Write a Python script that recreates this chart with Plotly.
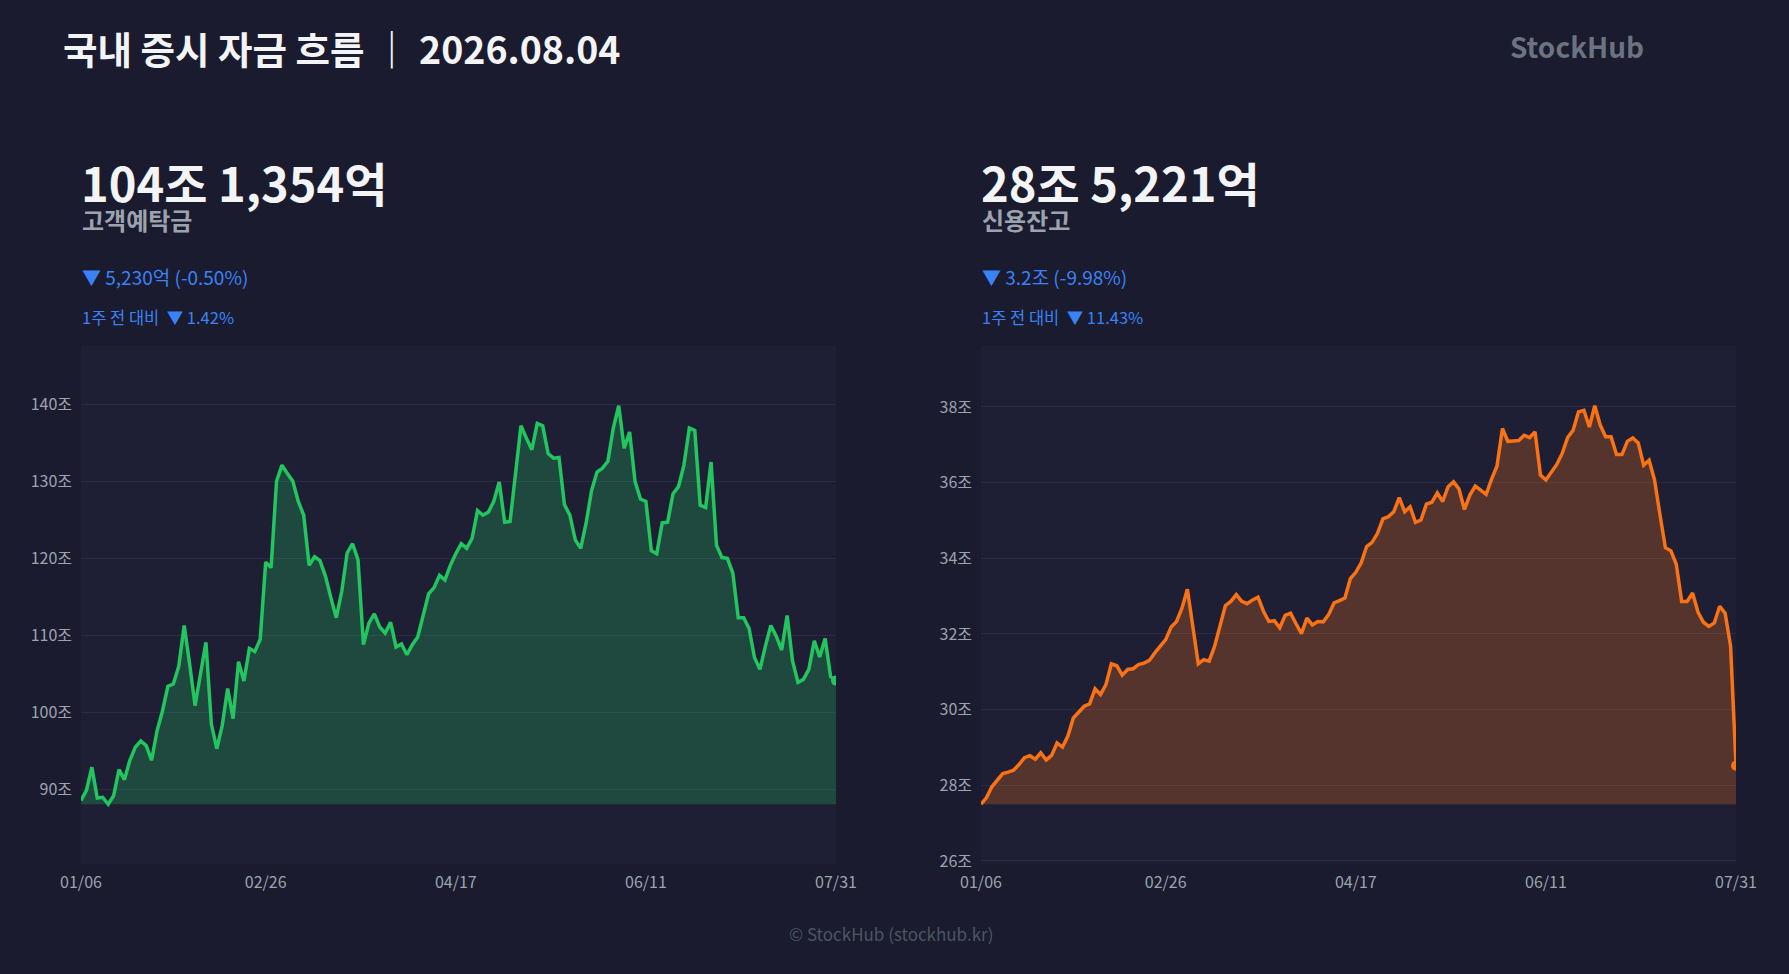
import pandas as pd
import plotly.graph_objects as go

# KRX trading days 2026-01-06 ~ 2026-07-31
KRX_HOLIDAYS = ['2026-02-16', '2026-02-17', '2026-02-18', '2026-03-02', '2026-05-01',
                '2026-05-05', '2026-05-25', '2026-06-03', '2026-07-17']
trade_days = [d.strftime('%m/%d') for d in
              pd.bdate_range('2026-01-06', '2026-07-31', freq='C', holidays=KRX_HOLIDAYS)]
tick_labels = ['01/06', '02/26', '04/17', '06/11', '07/31']

# 고객예탁금 (조원)
deposit = [88.6, 89.9, 92.9, 88.9, 89.0, 88.1, 89.2, 92.6, 91.3, 93.8,
           95.5, 96.3, 95.7, 93.8, 97.6, 100.2, 103.4, 103.7, 106.0, 111.3,
           106.3, 100.9, 105.0, 109.1, 98.5, 95.3, 98.3, 103.1, 99.2, 106.6,
           104.1, 108.3, 107.9, 109.5, 119.5, 118.8, 130.0, 132.1, 131.0, 130.0,
           127.4, 125.6, 119.1, 120.2, 119.7, 117.7, 114.9, 112.3, 115.7, 120.7,
           121.9, 119.8, 108.8, 111.6, 112.8, 111.1, 110.3, 111.7, 108.5, 108.9,
           107.5, 108.8, 109.8, 112.7, 115.4, 116.2, 117.8, 117.2, 119.1, 120.6,
           121.9, 121.3, 122.6, 126.2, 125.6, 126.0, 127.4, 129.9, 124.7, 124.8,
           131.3, 137.2, 135.6, 134.1, 137.5, 137.2, 133.6, 133.0, 133.1, 127.0,
           125.6, 122.4, 121.3, 124.6, 128.8, 131.2, 131.7, 132.6, 136.9, 139.8,
           134.3, 136.4, 130.0, 127.7, 127.4, 121.0, 120.6, 124.6, 124.7, 128.4,
           129.3, 132.1, 136.9, 136.6, 126.9, 126.6, 132.5, 121.7, 120.1, 120.0,
           118.1, 112.3, 112.3, 110.9, 107.1, 105.6, 108.6, 111.3, 109.9, 108.1,
           112.6, 106.7, 103.9, 104.3, 105.6, 109.3, 107.2, 109.6, 104.66, 104.14]

# 신용잔고 (조원)
credit = [27.50, 27.67, 27.96, 28.14, 28.31, 28.35, 28.40, 28.55, 28.73, 28.78,
          28.69, 28.86, 28.67, 28.79, 29.12, 29.01, 29.30, 29.78, 29.93, 30.09,
          30.15, 30.55, 30.40, 30.66, 31.21, 31.16, 30.91, 31.06, 31.08, 31.19,
          31.23, 31.30, 31.50, 31.66, 31.85, 32.18, 32.33, 32.68, 33.18, 32.20,
          31.21, 31.32, 31.28, 31.67, 32.20, 32.75, 32.86, 33.04, 32.86, 32.80,
          32.90, 32.97, 32.60, 32.33, 32.35, 32.16, 32.49, 32.55, 32.27, 32.01,
          32.42, 32.24, 32.33, 32.32, 32.51, 32.82, 32.88, 32.95, 33.46, 33.63,
          33.88, 34.31, 34.42, 34.66, 35.04, 35.10, 35.23, 35.60, 35.23, 35.36,
          34.95, 35.01, 35.43, 35.48, 35.73, 35.50, 35.89, 36.02, 35.83, 35.29,
          35.67, 35.91, 35.80, 35.69, 36.09, 36.44, 37.43, 37.09, 37.10, 37.11,
          37.25, 37.19, 37.34, 36.20, 36.07, 36.29, 36.48, 36.77, 37.19, 37.38,
          37.87, 37.91, 37.47, 38.03, 37.52, 37.21, 37.21, 36.74, 36.74, 37.09,
          37.18, 37.05, 36.46, 36.59, 36.07, 35.15, 34.28, 34.20, 33.84, 32.86,
          32.86, 33.08, 32.58, 32.31, 32.20, 32.29, 32.73, 32.55, 31.68, 28.52]

assert len(trade_days) == len(deposit) == len(credit)

W, H = 1789, 974
BG = '#1a1b2e'
PLOT_BG = '#1e1f34'
GRID = '#2a2c44'
FONT = 'Noto Sans CJK KR'
BLUE = '#3b82f6'


def px_x(x):
    return x / W


def px_y(y):
    return 1 - y / H


def add_area_panel(fig: go.Figure, idx: int, y: list, color: str, fill: str, dtick: float):
    xa = 'x' if idx == 1 else 'x%d' % idx
    ya = 'y' if idx == 1 else 'y%d' % idx
    base = min(y)
    fig.add_scatter(x=trade_days, y=[base] * len(y), mode='lines', line=dict(width=0),
                    hoverinfo='skip', showlegend=False, xaxis=xa, yaxis=ya)
    fig.add_scatter(x=trade_days, y=y, mode='lines', fill='tonexty', fillcolor=fill,
                    line=dict(color=color, width=3.5), showlegend=False, xaxis=xa, yaxis=ya)
    fig.add_scatter(x=[trade_days[-1]], y=[y[-1]], mode='markers',
                    marker=dict(color=color, size=10), showlegend=False, xaxis=xa, yaxis=ya)

    span = max(y) - min(y)
    return dict(range=[min(y) - span * 0.15, max(y) + span * 0.15], dtick=dtick, tick0=0)


fig = go.Figure()
y1 = add_area_panel(fig, 1, deposit, '#22c55e', 'rgba(34,197,94,0.25)', 10)
y2 = add_area_panel(fig, 2, credit, '#f97316', 'rgba(249,115,22,0.25)', 2)

tickfont = dict(family=FONT, size=16, color='#9ca3af')
xcommon = dict(type='category', range=[0, len(trade_days) - 1], tickvals=tick_labels,
               ticktext=tick_labels, showgrid=False, zeroline=False, showline=False,
               tickfont=tickfont, ticklabelstandoff=7, automargin=False, fixedrange=True)
ycommon = dict(showgrid=True, gridcolor=GRID, gridwidth=1, zeroline=False, showline=False,
               ticksuffix='조', tickfont=tickfont, ticklabelstandoff=8, automargin=False,
               fixedrange=True)

fig.update_layout(
    width=W, height=H,
    margin=dict(l=0, r=0, t=0, b=0),
    paper_bgcolor=BG, plot_bgcolor=PLOT_BG,
    font=dict(family=FONT, color='#9ca3af'),
    xaxis=dict(domain=[px_x(81), px_x(836)], anchor='y', **xcommon),
    xaxis2=dict(domain=[px_x(981), px_x(1736)], anchor='y2', **xcommon),
    yaxis=dict(domain=[px_y(864), px_y(346)], anchor='x', **y1, **ycommon),
    yaxis2=dict(domain=[px_y(864), px_y(346)], anchor='x2', **y2, **ycommon),
)


def add_text(text, x, y, size, color, bold=False, xanchor='left'):
    fig.add_annotation(text=text, x=px_x(x), y=px_y(y), xref='paper', yref='paper',
                       xanchor=xanchor, yanchor='middle', showarrow=False,
                       font=dict(family=FONT, size=size, color=color,
                                 weight=700 if bold else 400))


add_text('국내 증시 자금 흐름 ｜ 2026.08.04', 61, 48, 37.5, '#f3f4f6', bold=True)
add_text('StockHub', 1646, 46, 28, '#6b7280', bold=True, xanchor='right')

panels = [
    (79, '104조 1,354억', '고객예탁금', '▼ 5,230억 (-0.50%)', '1주 전 대비\u00a0 ▼ 1.42%'),
    (979, '28조 5,221억', '신용잔고', '▼ 3.2조 (-9.98%)', '1주 전 대비\u00a0 ▼ 11.43%'),
]
for x0, value, label, change, week in panels:
    add_text(value, x0, 182, 47, '#f3f4f6', bold=True)
    add_text(label, x0 + 1, 219, 24, '#9ca3af', bold=True)
    add_text(change, x0 + 1, 276, 19, BLUE)
    add_text(week, x0 + 1, 317, 16.5, BLUE)

add_text('© StockHub (stockhub.kr)', 891, 933, 17, '#4b5563', xanchor='center')

fig.write_html("out.html", config={'displayModeBar': False},
               post_script="document.body.style.margin='0';")
